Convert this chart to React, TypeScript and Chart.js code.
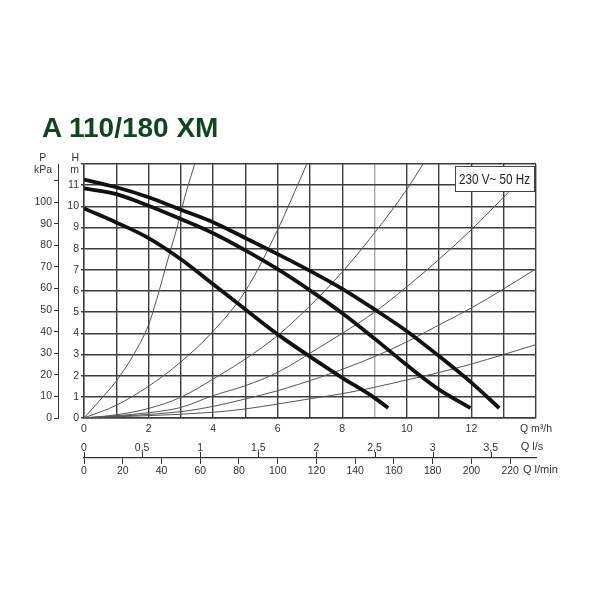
import { useEffect, useRef } from "react";
import { Chart, ChartConfiguration, Plugin, registerables } from "chart.js";
Chart.register(...registerables);

// pump curves, Q in m³/h and H in m (three speed settings)
const pumpHighQ = [0, 1, 2, 3, 4, 5, 6, 7, 8, 9, 10, 11, 12, 12.86];
const pumpHighH = [11.26, 10.9, 10.43, 9.84, 9.25, 8.5, 7.74, 6.95, 6.1, 5.13, 4.1, 2.92, 1.67, 0.47];
const pumpMidQ = [0, 1, 2, 3, 4, 5, 6, 7, 8, 9, 10, 11, 11.97];
const pumpMidH = [10.85, 10.58, 10.03, 9.4, 8.73, 7.92, 7.03, 6.03, 4.95, 3.75, 2.5, 1.34, 0.47];
const pumpLowQ = [0, 1, 2, 3, 4, 5, 6, 7, 8, 9, 9.42];
const pumpLowH = [9.9, 9.24, 8.5, 7.5, 6.32, 5.13, 3.95, 2.9, 1.9, 0.95, 0.47];

// system curves through the origin (thin lines)
const sysAQ = [0, 0.5, 1, 1.5, 2, 2.25, 2.6, 2.9, 3.15, 3.43];
const sysAH = [0, 0.85, 1.75, 2.9, 4.4, 5.6, 7.5, 9.1, 10.6, 12];
const sysBQ = [0, 1, 2, 3, 4, 5, 6, 6.5, 6.9];
const sysBH = [0, 0.6, 1.5, 2.65, 4.1, 6.0, 8.9, 10.6, 12];
const sysCQ = [0, 1, 2, 3, 4, 5, 6, 7, 8, 9, 10, 10.5];
const sysCH = [0, 0.15, 0.45, 0.98, 1.84, 2.79, 3.9, 5.3, 6.9, 8.75, 10.8, 12];
const sysDQ = [0, 2, 3, 4, 5, 6, 7.3, 8, 9, 10, 11, 12, 13.2];
const sysDH = [0, 0.25, 0.5, 1.06, 1.53, 2.16, 3.34, 4.0, 5.0, 6.2, 7.5, 8.9, 10.75];
const sysEQ = [0, 3, 4, 5, 6, 7.3, 8, 9, 10, 11, 12, 13, 14];
const sysEH = [0, 0.3, 0.55, 0.9, 1.29, 1.92, 2.3, 2.9, 3.6, 4.4, 5.2, 6.1, 7.05];
const sysFQ = [0, 4, 5, 6, 7.3, 8, 9, 10, 11, 12, 13, 14];
const sysFH = [0, 0.27, 0.43, 0.66, 0.98, 1.15, 1.45, 1.8, 2.15, 2.55, 3.0, 3.47];

// axis ticks and labels
const qTicks = [0, 1, 2, 3, 4, 5, 6, 7, 8, 9, 10, 11, 12, 13, 14];
const qLabels = ["0", "", "2", "", "4", "", "6", "", "8", "", "10", "", "12", "", "Q m³/h"];
const hTicks = [0, 1, 2, 3, 4, 5, 6, 7, 8, 9, 10, 11, 12];
const pTicks = [0, 10, 20, 30, 40, 50, 60, 70, 80, 90, 100, 110];
const lsTicks = [0, 0.5, 1, 1.5, 2, 2.5, 3, 3.5];
const lsLabels = ["0", "0,5", "1", "1,5", "2", "2,5", "3", "3,5"];
const lminTicks = [0, 20, 40, 60, 80, 100, 120, 140, 160, 180, 200, 220];

const title = "A 110/180 XM";
const supplyLabel = "230 V~ 50 Hz";
const lsUnit = "Q l/s";
const lminUnit = "Q l/min";

// unit conversions
const Q_MAX = 14;
const H_MAX = 12;
const KPA_PER_M = 9.81;

const FONT = "'Liberation Sans', Arial, sans-serif";
const INK = "#333";
const GRID = "#3d3d3d";

const toPoints = (qs: number[], hs: number[]) => qs.map((q, i) => ({ x: q, y: hs[i] }));

// draws the l/s tick marks, the unit names and the supply box
const extrasPlugin: Plugin = {
  id: "extras",
  afterDraw(chart) {
    const { ctx, chartArea, scales } = chart;
    const ls = scales.xls;
    const lmin = scales.xlmin;
    ctx.save();
    ctx.strokeStyle = INK;
    ctx.lineWidth = 1;
    lsTicks.forEach((v) => {
      const x = Math.round(ls.getPixelForValue(v)) + 0.5;
      ctx.beginPath();
      ctx.moveTo(x, lmin.top - 6);
      ctx.lineTo(x, lmin.top);
      ctx.stroke();
    });

    ctx.fillStyle = INK;
    ctx.font = `11px ${FONT}`;
    ctx.textBaseline = "middle";
    ctx.textAlign = "center";
    ctx.fillText(lsUnit, chartArea.right - 4, ls.top + 9);
    ctx.textAlign = "left";
    ctx.fillText(lminUnit, chartArea.right - 13, lmin.top + 12);

    const bw = 79;
    const bh = 25;
    const bx = chartArea.right - 2 - bw;
    const by = chartArea.top + 2;
    ctx.fillStyle = "#fff";
    ctx.fillRect(bx, by, bw, bh);
    ctx.strokeStyle = "#444";
    ctx.strokeRect(bx + 0.5, by + 0.5, bw, bh);
    ctx.translate(bx + bw / 2, by + bh / 2 + 1);
    ctx.scale(0.78, 1);
    ctx.font = `15px ${FONT}`;
    ctx.textAlign = "center";
    ctx.fillStyle = "#222";
    ctx.fillText(supplyLabel, 0, 0);
    ctx.restore();
  },
};

export default function App() {
  const canvasRef = useRef<HTMLCanvasElement | null>(null);
  const chartRef = useRef<Chart | null>(null);

  useEffect(() => {
    const pump = (qs: number[], hs: number[]) => ({
      data: toPoints(qs, hs),
      borderColor: "#111",
      borderWidth: 3.8,
      showLine: true,
      pointRadius: 0,
      cubicInterpolationMode: "monotone" as const,
      xAxisID: "x",
      yAxisID: "y",
    });
    const system = (qs: number[], hs: number[]) => ({
      data: toPoints(qs, hs),
      borderColor: "#555",
      borderWidth: 1,
      showLine: true,
      pointRadius: 0,
      cubicInterpolationMode: "monotone" as const,
      xAxisID: "x",
      yAxisID: "y",
    });

    const tickFont = { family: FONT, size: 10.5 };

    const config: ChartConfiguration<"scatter"> = {
      type: "scatter",
      data: {
        datasets: [
          pump(pumpHighQ, pumpHighH),
          pump(pumpMidQ, pumpMidH),
          pump(pumpLowQ, pumpLowH),
          system(sysAQ, sysAH),
          system(sysBQ, sysBH),
          system(sysCQ, sysCH),
          system(sysDQ, sysDH),
          system(sysEQ, sysEH),
          system(sysFQ, sysFH),
        ],
      },
      options: {
        responsive: false,
        animation: false,
        events: [],
        layout: { padding: { left: 0, top: 164, right: 64, bottom: 120 } },
        plugins: {
          legend: { display: false },
          tooltip: { enabled: false },
        },
        scales: {
          x: {
            type: "linear",
            position: "bottom",
            weight: 0,
            min: 0,
            max: Q_MAX,
            afterBuildTicks: (axis) => {
              axis.ticks = qTicks.map((value) => ({ value }));
            },
            afterFit: (axis) => {
              axis.height = 20;
            },
            grid: {
              color: (ctx) => (ctx.tick && ctx.tick.value === 9 ? "#a8a8a8" : GRID),
              lineWidth: 1.4,
              drawTicks: false,
            },
            border: { display: true, color: GRID, width: 1.4 },
            ticks: {
              autoSkip: false,
              maxRotation: 0,
              minRotation: 0,
              padding: 5,
              color: INK,
              font: tickFont,
              callback: (_v, i) => qLabels[i],
            },
          },
          xls: {
            type: "linear",
            position: "bottom",
            weight: 1,
            min: 0,
            max: Q_MAX / 3.6,
            afterBuildTicks: (axis) => {
              axis.ticks = lsTicks.map((value) => ({ value }));
            },
            afterFit: (axis) => {
              axis.height = 20;
            },
            grid: { display: false, drawTicks: false },
            border: { display: false },
            ticks: {
              autoSkip: false,
              maxRotation: 0,
              padding: 4,
              color: INK,
              font: tickFont,
              callback: (_v, i) => lsLabels[i],
            },
          },
          xlmin: {
            type: "linear",
            position: "bottom",
            weight: 2,
            min: 0,
            max: (Q_MAX * 1000) / 60,
            afterBuildTicks: (axis) => {
              axis.ticks = lminTicks.map((value) => ({ value }));
            },
            afterFit: (axis) => {
              axis.height = 22;
            },
            grid: {
              display: true,
              drawOnChartArea: false,
              drawTicks: true,
              tickLength: 6,
              color: INK,
            },
            border: { display: true, color: INK, width: 1.3 },
            ticks: {
              autoSkip: false,
              maxRotation: 0,
              padding: 1,
              color: INK,
              font: tickFont,
              callback: (v) => String(v),
            },
          },
          y: {
            type: "linear",
            position: "left",
            weight: 0,
            min: 0,
            max: H_MAX,
            afterBuildTicks: (axis) => {
              axis.ticks = hTicks.map((value) => ({ value }));
            },
            afterFit: (axis) => {
              axis.width = 26;
            },
            grid: {
              color: GRID,
              lineWidth: 1.4,
              drawTicks: true,
              tickLength: 3,
            },
            border: { display: true, color: GRID, width: 1.4 },
            ticks: {
              autoSkip: false,
              padding: 2,
              color: INK,
              font: tickFont,
              callback: (v) => (Number(v) === H_MAX ? ["H", "m"] : String(v)),
            },
          },
          yP: {
            type: "linear",
            position: "left",
            weight: 1,
            min: 0,
            max: H_MAX * KPA_PER_M,
            afterBuildTicks: (axis) => {
              axis.ticks = [...pTicks, H_MAX * KPA_PER_M].map((value) => ({ value }));
            },
            afterFit: (axis) => {
              axis.width = 58;
            },
            grid: {
              display: true,
              drawOnChartArea: false,
              drawTicks: true,
              tickLength: 4,
              tickColor: (ctx) =>
                ctx.tick && ctx.tick.value > pTicks[pTicks.length - 1] ? "rgba(0,0,0,0)" : INK,
            },
            border: { display: true, color: INK, width: 1 },
            ticks: {
              autoSkip: false,
              padding: 2,
              color: INK,
              font: tickFont,
              callback: (v) => {
                const n = Number(v);
                if (n > pTicks[pTicks.length - 1]) return ["P  ", "kPa"];
                if (n === pTicks[pTicks.length - 1]) return "";
                return String(n);
              },
            },
          },
        },
      },
      plugins: [extrasPlugin],
    };

    if (canvasRef.current) {
      const ctx = canvasRef.current.getContext("2d");
      if (ctx) {
        chartRef.current = new Chart(ctx, config);
      }
    }

    return () => {
      if (chartRef.current) {
        chartRef.current.destroy();
        chartRef.current = null;
      }
    };
  }, []);

  return (
    <div
      style={{
        position: "fixed",
        left: 0,
        top: 0,
        width: 600,
        height: 600,
        background: "#fff",
      }}
    >
      <canvas
        ref={canvasRef}
        width={600}
        height={600}
        style={{ position: "absolute", left: 0, top: 0 }}
      />
      <div
        style={{
          position: "absolute",
          left: 42,
          top: 114,
          fontFamily: FONT,
          fontWeight: "bold",
          fontSize: 28,
          lineHeight: "28px",
          color: "#0f4520",
          whiteSpace: "nowrap",
        }}
      >
        {title}
      </div>
    </div>
  );
}
